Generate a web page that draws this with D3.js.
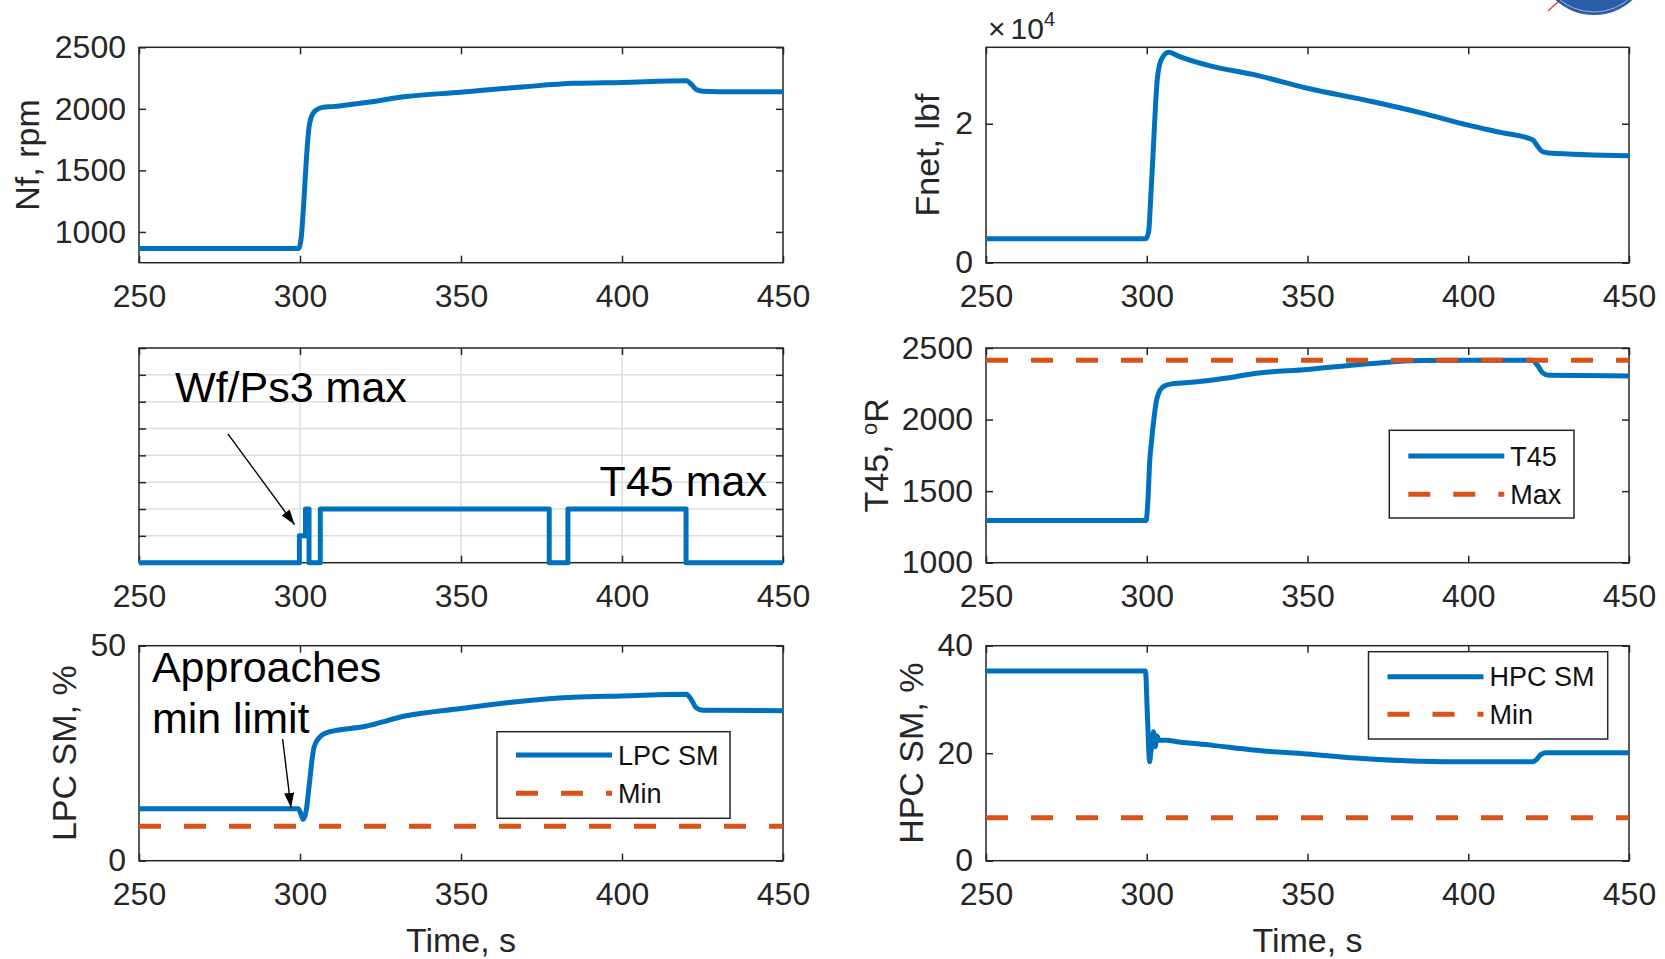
<!DOCTYPE html>
<html>
<head>
<meta charset="utf-8">
<script src="https://cdn.jsdelivr.net/npm/d3@7"></script>
<style>
  body { margin: 0; background: #fff; }
  text { font-family: "Liberation Sans", Arial, Helvetica, sans-serif; }
</style>
</head>
<body>
<div id="graph"></div>
<script>
// ---- data ----
var timeDomain = [250, 450];
var timeTicks = [250, 300, 350, 400, 450];

var timeNf = [250, 299.6, 300.4, 301.2, 302, 302.8, 303.6, 305, 307, 310, 320, 333, 350, 370, 385, 400, 420, 421.5, 423, 425, 430, 450];
var nfRpm  = [866, 866, 960, 1250, 1600, 1850, 1940, 1990, 2012, 2018, 2050, 2100, 2135, 2180, 2207, 2215, 2228, 2200, 2158, 2142, 2138, 2138];

var timeFnet = [250, 299.7, 300.6, 301.2, 302, 302.6, 303.3, 304.5, 306.8, 310, 320, 333, 350, 370, 385, 400, 410, 420, 421.5, 423, 425, 450];
var fnetLbf  = [3460, 3460, 4500, 9000, 16000, 21500, 26500, 29200, 30300, 29700, 28300, 27100, 25100, 23200, 21600, 19800, 18750, 17700, 16800, 16000, 15800, 15400];

var timeLimit   = [250, 299.8, 301.7, 302.8, 306.3, 377.4, 383.2, 419.9, 450];
var activeLimit = [0, 1, 2, 0, 2, 0, 2, 0, 0];

var timeT45 = [250, 299.8, 300.4, 300.9, 301.5, 302.2, 303, 304, 305.5, 308, 315, 325, 333, 350, 370, 385, 400, 420, 421.5, 423, 425, 450];
var t45R    = [1295, 1295, 1450, 1700, 1850, 2000, 2130, 2200, 2235, 2250, 2262, 2290, 2320, 2350, 2392, 2413, 2415, 2415, 2380, 2330, 2310, 2305];
var t45Max  = 2415;

var timeLpc = [250, 299.5, 300.4, 301, 302, 302.8, 304.4, 306.8, 309.3, 320, 333, 350, 365, 385, 400, 420, 421.5, 423, 425, 450];
var lpcSm   = [12.1, 12.1, 10.6, 9.6, 12, 17.2, 26.5, 29.2, 30, 31.2, 33.7, 35.4, 36.8, 38, 38.3, 38.7, 37.5, 35.6, 35, 34.9];
var lpcMin  = 8;

var timeHpc = [250, 299.6, 300.2, 300.9, 301.4, 302.1, 302.6, 303.2, 303.8, 306, 310, 320, 333, 350, 365, 385, 400, 420, 421, 422.5, 424, 450];
var hpcSm   = [35.3, 35.3, 27, 18.4, 21, 24, 21.2, 23.2, 22.4, 22.4, 22.1, 21.5, 20.6, 19.85, 19.1, 18.5, 18.4, 18.4, 18.7, 19.7, 20.1, 20.1];
var hpcMin  = 8;

// ---- layout ----
var blue = "#0072bd", orange = "#d95319", ink = "#262626";
var font = "'Liberation Sans', Arial, Helvetica, sans-serif";
var cols = [[139, 783], [986, 1629]];
var rows = [[47.3, 262.7], [348, 562.7], [645.7, 860.7]];

var svg = d3.select("#graph")
    .append("svg")
    .attr("width", 1665)
    .attr("height", 959);

var defs = svg.append("defs");
defs.append("marker")
    .attr("id", "arrow")
    .attr("markerUnits", "userSpaceOnUse")
    .attr("markerWidth", 15)
    .attr("markerHeight", 10)
    .attr("refX", 15)
    .attr("refY", 5)
    .attr("orient", "auto")
  .append("path")
    .attr("d", "M0,0 L15,5 L0,10 Z")
    .attr("fill", "#000");

// logo peeking in at the top right corner
svg.append("line").attr("x1", 1548).attr("y1", 11).attr("x2", 1560).attr("y2", 0)
    .attr("stroke", "#e8463c").attr("stroke-width", 1.5);
svg.append("circle").attr("cx", 1594).attr("cy", -42).attr("r", 57).attr("fill", "#2c5ea8");
svg.append("circle").attr("cx", 1594).attr("cy", -42).attr("r", 54).attr("fill", "none")
    .attr("stroke", "#9db5dd").attr("stroke-width", 1);

function panel(id, col, row, yDomain, yTicks, yFormat, grid) {
  var left = cols[col][0], top = rows[row][0];
  var w = cols[col][1] - left, h = rows[row][1] - top;
  var x = d3.scaleLinear().domain(timeDomain).range([0, w]);
  var y = d3.scaleLinear().domain(yDomain).range([h, 0]);
  var g = svg.append("g").attr("transform", "translate(" + left + "," + top + ")");

  // clip only left/right, strokes may spill over the top and bottom edges
  g.append("clipPath").attr("id", "clip-" + id)
    .append("rect").attr("y", -8).attr("width", w).attr("height", h + 16);

  if (grid) {
    g.append("g").selectAll("line")
        .data(timeTicks.slice(1, -1))
        .enter().append("line")
        .attr("x1", x).attr("x2", x).attr("y1", 0).attr("y2", h)
        .attr("stroke", "#dedede").attr("stroke-width", 1.5);
    g.append("g").selectAll("line")
        .data(yTicks.slice(1, -1))
        .enter().append("line")
        .attr("x1", 0).attr("x2", w).attr("y1", y).attr("y2", y)
        .attr("stroke", "#dedede").attr("stroke-width", 1.5);
  }

  var axes = g.append("g").attr("font-family", font).attr("font-size", 32);
  axes.append("g").attr("transform", "translate(0," + h + ")")
      .call(d3.axisBottom(x).tickValues(timeTicks).tickSize(-7).tickSizeOuter(0).tickPadding(22).tickFormat(d3.format("d")));
  axes.append("g")
      .call(d3.axisTop(x).tickValues(timeTicks).tickSize(-7).tickSizeOuter(0).tickFormat(""));
  axes.append("g")
      .call(d3.axisLeft(y).tickValues(yTicks).tickSize(-7).tickSizeOuter(0).tickPadding(13).tickFormat(yFormat));
  axes.append("g").attr("transform", "translate(" + w + ",0)")
      .call(d3.axisRight(y).tickValues(yTicks).tickSize(-7).tickSizeOuter(0).tickFormat(""));
  axes.selectAll(".domain").remove();
  axes.selectAll(".tick line").attr("stroke", ink).attr("stroke-width", 1.5);
  axes.selectAll(".tick text").attr("fill", ink).attr("font-family", font).attr("font-size", 32);

  g.append("rect")
      .attr("width", w).attr("height", h)
      .attr("fill", "none").attr("stroke", ink).attr("stroke-width", 1.5);

  var plot = g.append("g").attr("clip-path", "url(#clip-" + id + ")");

  return { g: g, plot: plot, x: x, y: y, w: w, h: h };
}

function series(p, xs, ys, color, dash, curve) {
  var line = d3.line()
      .x(function(d, i) { return p.x(xs[i]); })
      .y(function(d) { return p.y(d); })
      .curve(curve || d3.curveMonotoneX);
  p.plot.append("path")
      .datum(ys)
      .attr("d", line)
      .attr("fill", "none")
      .attr("stroke", color)
      .attr("stroke-width", 5)
      .attr("stroke-linejoin", "round")
      .attr("stroke-dasharray", dash || null);
}

function limitLine(p, value, color) {
  series(p, timeDomain, [value, value], color, "22,23", d3.curveLinear);
}

function yLabel(p, dx, label) {
  var t = p.g.append("text")
      .attr("transform", "translate(" + dx + "," + (p.h / 2) + ") rotate(-90)")
      .attr("text-anchor", "middle")
      .attr("font-size", 34)
      .attr("fill", ink);
  return t.text(label);
}

function xLabel(p) {
  p.g.append("text")
      .attr("x", p.w / 2)
      .attr("y", p.h + 91)
      .attr("text-anchor", "middle")
      .attr("font-size", 34)
      .attr("fill", ink)
      .text("Time, s");
}

function legend(p, bx, by, bw, bh, rowsY, items) {
  var lg = p.g.append("g").attr("transform", "translate(" + bx + "," + by + ")");
  lg.append("rect")
      .attr("width", bw).attr("height", bh)
      .attr("fill", "#fff").attr("stroke", ink).attr("stroke-width", 1.5);
  items.forEach(function(it, i) {
    lg.append("line")
        .attr("x1", 19).attr("x2", 115)
        .attr("y1", rowsY[i]).attr("y2", rowsY[i])
        .attr("stroke", it.color).attr("stroke-width", 5)
        .attr("stroke-dasharray", it.dash || null);
    lg.append("text")
        .attr("x", 121)
        .attr("y", rowsY[i])
        .attr("dy", "0.36em")
        .attr("font-size", 27)
        .attr("fill", "#111")
        .text(it.label);
  });
}

function arrow(p, x1, y1, x2, y2) {
  p.g.append("line")
      .attr("x1", p.x(x1)).attr("y1", p.y(y1))
      .attr("x2", p.x(x2)).attr("y2", p.y(y2))
      .attr("stroke", "#000").attr("stroke-width", 1.4)
      .attr("marker-end", "url(#arrow)");
}

function note(p, xv, yv, label, anchor) {
  p.g.append("text")
      .attr("x", p.x(xv)).attr("y", p.y(yv))
      .attr("text-anchor", anchor || "start")
      .attr("font-size", 43)
      .attr("fill", "#000")
      .text(label);
}

// ---- Nf ----
var pNf = panel("nf", 0, 0, [750, 2500], [1000, 1500, 2000, 2500], d3.format("d"));
series(pNf, timeNf, nfRpm, blue);
yLabel(pNf, -100, "Nf, rpm");

// ---- Fnet ----
var pF = panel("fnet", 1, 0, [0, 31000], [0, 20000], function(d) { return d / 1e4; });
series(pF, timeFnet, fnetLbf, blue);
yLabel(pF, -47, "Fnet, lbf");
var exp = svg.append("text").attr("x", 988).attr("y", 39).attr("fill", ink).attr("font-size", 30);
exp.append("tspan").text("\u00d7");
exp.append("tspan").attr("dx", 5).text("10");
exp.append("tspan").attr("dy", -13).attr("font-size", 20).text("4");

// ---- active limit ----
var pL = panel("lim", 0, 1, [0, 8], [0, 1, 2, 3, 4, 5, 6, 7, 8], function() { return ""; }, true);
series(pL, timeLimit, activeLimit, blue, null, d3.curveStepAfter);
note(pL, 261.2, 6.0, "Wf/Ps3 max");
arrow(pL, 277.6, 4.8, 298.3, 1.42);
note(pL, 445, 2.5, "T45 max", "end");

// ---- T45 ----
var pT = panel("t45", 1, 1, [1000, 2500], [1000, 1500, 2000, 2500], d3.format("d"));
series(pT, timeT45, t45R, blue);
limitLine(pT, t45Max, orange);
var tl = yLabel(pT, -98, "T45, ");
tl.append("tspan").attr("dy", -11).attr("font-size", 22).text("o");
tl.append("tspan").attr("dy", 11).text("R");
legend(pT, 403.3, 82.3, 184.7, 87.7, [25.7, 64], [
  { label: "T45", color: blue },
  { label: "Max", color: orange, dash: "22,23" }
]);

// ---- LPC SM ----
var pLpc = panel("lpc", 0, 2, [0, 50], [0, 50], d3.format("d"));
series(pLpc, timeLpc, lpcSm, blue);
limitLine(pLpc, lpcMin, orange);
yLabel(pLpc, -63, "LPC SM, %");
xLabel(pLpc);
legend(pLpc, 358, 86, 233, 86.6, [23.3, 61.6], [
  { label: "LPC SM", color: blue },
  { label: "Min", color: orange, dash: "22,23" }
]);
note(pLpc, 254, 41.6, "Approaches");
note(pLpc, 254, 29.6, "min limit");
arrow(pLpc, 294.6, 28.3, 297.2, 12.3);

// ---- HPC SM ----
var pHpc = panel("hpc", 1, 2, [0, 40], [0, 20, 40], d3.format("d"));
series(pHpc, timeHpc, hpcSm, blue);
limitLine(pHpc, hpcMin, orange);
yLabel(pHpc, -63, "HPC SM, %");
xLabel(pHpc);
legend(pHpc, 382.5, 6, 239.2, 87.3, [25, 62.6], [
  { label: "HPC SM", color: blue },
  { label: "Min", color: orange, dash: "22,23" }
]);
</script>
</body>
</html>
